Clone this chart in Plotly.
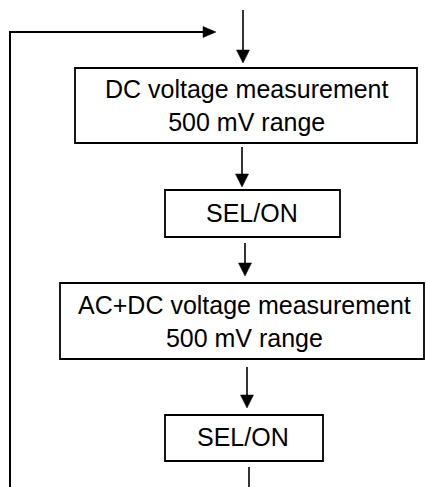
import plotly.graph_objects as go

# ---- content ----
step_line1 = ["DC voltage measurement", "SEL/ON", "AC+DC voltage measurement", "SEL/ON"]
step_line2 = ["500 mV range", "", "500 mV range", ""]

# ---- layout geometry (pixel space, y downward) ----
W, H = 426, 487
box_x0 = [75, 165, 60, 165]
box_x1 = [417, 340, 424, 323]
box_y0 = [68, 190, 283, 415]
box_y1 = [143, 237, 359, 461]
text_cx = [247, 252, 244, 243]
text_cy = [105, 213, 321, 437]

# vertical arrows: (x, y_start, y_tip)
arrow_x = [243, 242, 245, 247]
arrow_y0 = [10, 147, 243, 367]
arrow_tip = [63, 187, 276, 408]

FONT = "Liberation Sans, Arial, Helvetica, sans-serif"
BLACK = "#000000"

fig = go.Figure()
fig.add_trace(go.Scatter(x=[0, W], y=[0, H], mode="markers",
                         marker=dict(opacity=0), hoverinfo="skip", showlegend=False))

shapes = []
annotations = []

# boxes and labels
for i in range(len(step_line1)):
    shapes.append(dict(type="rect", xref="x", yref="y",
                       x0=box_x0[i], x1=box_x1[i], y0=box_y0[i], y1=box_y1[i],
                       line=dict(color=BLACK, width=1.8), fillcolor="white", layer="below"))
    label = step_line1[i] + ("<br>" + step_line2[i] if step_line2[i] else "")
    annotations.append(dict(x=text_cx[i], y=text_cy[i], xref="x", yref="y",
                            text=label, showarrow=False,
                            xanchor="center", yanchor="middle", align="center",
                            font=dict(family=FONT, size=25, color=BLACK)))

HEAD_L, HEAD_HW = 13, 6.5

# vertical arrows
for x, ya, yt in zip(arrow_x, arrow_y0, arrow_tip):
    shapes.append(dict(type="line", xref="x", yref="y", x0=x, x1=x, y0=ya, y1=yt - HEAD_L + 1,
                       line=dict(color=BLACK, width=1.6)))
    shapes.append(dict(type="path", xref="x", yref="y",
                       path=f"M {x-HEAD_HW} {yt-HEAD_L} L {x+HEAD_HW} {yt-HEAD_L} L {x} {yt} Z",
                       fillcolor=BLACK, line=dict(color=BLACK, width=0.5)))

# tail line leaving the last box
shapes.append(dict(type="line", xref="x", yref="y", x0=249, x1=249, y0=467, y1=H + 2,
                   line=dict(color=BLACK, width=1.6)))

# loop-back line: up the left edge, then right with arrowhead
loop_x, loop_y, loop_tip = 10, 32, 216
shapes.append(dict(type="path", xref="x", yref="y",
                   path=f"M {loop_x} {H+2} L {loop_x} {loop_y} L {loop_tip-HEAD_L+1} {loop_y}",
                   line=dict(color=BLACK, width=2)))
shapes.append(dict(type="path", xref="x", yref="y",
                   path=f"M {loop_tip-HEAD_L} {loop_y-5.5} L {loop_tip-HEAD_L} {loop_y+5.5} L {loop_tip} {loop_y} Z",
                   fillcolor=BLACK, line=dict(color=BLACK, width=0.5)))

fig.update_layout(
    width=W, height=H, autosize=False,
    margin=dict(l=0, r=0, t=0, b=0, pad=0),
    paper_bgcolor="white", plot_bgcolor="white",
    xaxis=dict(range=[0, W], visible=False, fixedrange=True),
    yaxis=dict(range=[H, 0], visible=False, fixedrange=True),
    shapes=shapes, annotations=annotations, showlegend=False,
)

fig.write_html("out.html", config={"displayModeBar": False},
               post_script="document.body.style.margin='0';document.body.style.padding='0';")
